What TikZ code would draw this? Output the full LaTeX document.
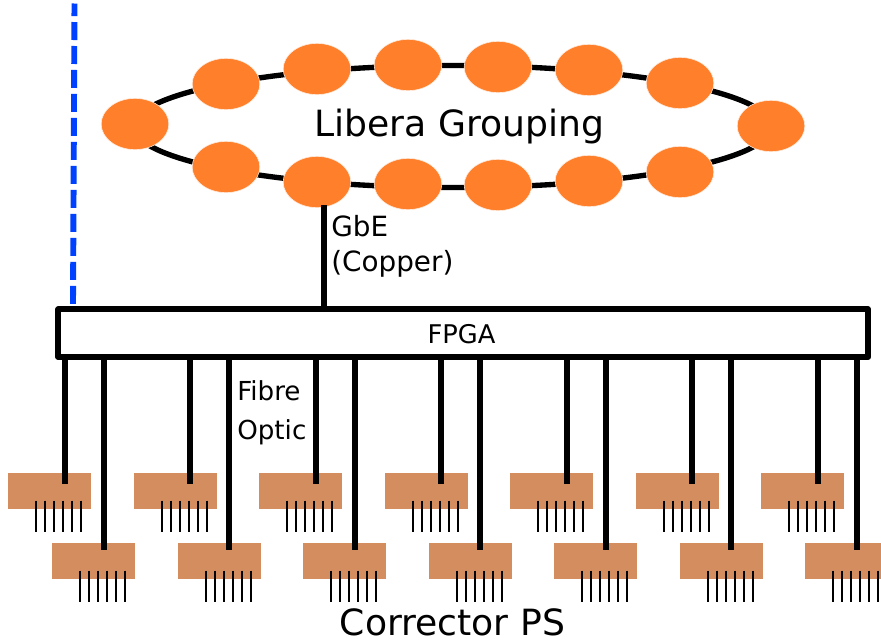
\documentclass[tikz,border=0pt]{standalone}
\usepackage{fontspec}
\setmainfont{DejaVu Sans}
\usetikzlibrary{calc, positioning, backgrounds, shapes.geometric}
\definecolor{libera_orange}{HTML}{FF7F2A}
\definecolor{ps_tan}{HTML}{D38D5F}
\definecolor{dash_blue}{HTML}{0040FF}
\tikzset{
    libera/.style={ellipse, fill=libera_orange, draw=white!85!libera_orange, line width=0.4pt,
        inner sep=0pt, minimum width=1.69cm, minimum height=1.28cm},
    ring/.style={ellipse, draw=black, line width=3.8pt, inner sep=0pt, minimum width=15.95cm, minimum height=3.05cm},
    ps_box/.style={rectangle, fill=ps_tan, inner sep=0pt, minimum width=2.075cm, minimum height=0.9cm},
    fpga_box/.style={rectangle, draw=black, fill=white, line width=4.2pt, line join=round,
        inner sep=0pt, minimum width=20.24cm, minimum height=1.19cm},
    wire/.style={draw=black, line width=4.2pt},
    pin/.style={draw=black, line width=1.4pt},
    label_big/.style={anchor=base, inner sep=0pt, font=\fontsize{25.7}{30}\selectfont},
    label_mid/.style={anchor=base west, inner sep=0pt, font=\fontsize{19.8}{25}\selectfont},
    label_small/.style={anchor=base west, inner sep=0pt, font=\fontsize{18.6}{22}\selectfont}
}
\begin{document}
\begin{tikzpicture}[x=0.025cm, y=-0.025cm]
    \useasboundingbox (0,0) rectangle (881,639);

    % =========================================================================
    % TOP: Libera ring
    % =========================================================================
    \node[ring] (libera_ring) at (452.5,126.5) {};

    \node[libera] (bpm_left) at (135,124) {};
    \node[libera] (bpm_right) at (771,126) {};

    \node[libera] (bpm_top_1) at (226,84) {};
    \node[libera] (bpm_top_2) at (317,69) {};
    \node[libera] (bpm_top_3) at (408,65) {};
    \node[libera] (bpm_top_4) at (498,67) {};
    \node[libera] (bpm_top_5) at (589,70) {};
    \node[libera] (bpm_top_6) at (680,83) {};

    \node[libera] (bpm_bot_1) at (226,167) {};
    \node[libera] (bpm_bot_2) at (317,182) {};
    \node[libera] (bpm_bot_3) at (408,184) {};
    \node[libera] (bpm_bot_4) at (498,185) {};
    \node[libera] (bpm_bot_5) at (589,181) {};
    \node[libera] (bpm_bot_6) at (680,172) {};

    \node[label_big] (libera_label) at (459.5,136.5) {Libera Grouping};

    % =========================================================================
    % MIDDLE: FPGA with its uplink
    % =========================================================================
    \node[fpga_box] (fpga) at (463.25,333.25) {};
    \node[anchor=base, inner sep=0pt, font=\fontsize{18.3}{22}\selectfont] (fpga_label) at (461.5,343) {FPGA};

    % Uplink to the ring
    \coordinate (gbe_top) at (324,205);
    \draw[wire] (gbe_top) -- (gbe_top |- fpga.north);
    \node[label_mid] (gbe_label) at (331,236) {GbE};
    \node[label_mid] (copper_label) at (331,271) {(Copper)};

    % Blue dashed line
    \coordinate (dash_top) at (74.5,3.5);
    \coordinate (dash_bot) at (73,304.5);
    \draw[dash_blue, line width=4.2pt, dash pattern=on 12.8pt off 4.26pt, dash phase=3.9pt] (dash_top) -- (dash_bot);

    \node[label_small] (fibre_label) at (237,400) {Fibre};
    \node[label_small] (optic_label) at (237,439) {Optic};

    % =========================================================================
    % BOTTOM: Corrector power supplies
    % =========================================================================
    \foreach \i [evaluate=\i as \x using 49.7+125.5*\i] in {0,...,6} {
        \node[ps_box] (ps_top_\i) at (\x,491) {};
        \node[ps_box] (ps_bot_\i) at (\x+44,561) {};

        \coordinate (wire_top_\i) at (\x+15.1,484);
        \coordinate (wire_bot_\i) at (\x+54,550);
        \draw[wire] (wire_top_\i |- fpga.south) -- (wire_top_\i);
        \draw[wire] (wire_bot_\i |- fpga.south) -- (wire_bot_\i);

        \foreach \k in {0,...,5} {
            \draw[pin] ($(ps_top_\i.north west)+(28.3+9*\k,28)$) -- ++(0,31.7);
            \draw[pin] ($(ps_bot_\i.north west)+(28.3+9*\k,28)$) -- ++(0,31.7);
        }
    }

    \node[label_big] (ps_label) at (452.5,635) {Corrector PS};
\end{tikzpicture}
\end{document}
